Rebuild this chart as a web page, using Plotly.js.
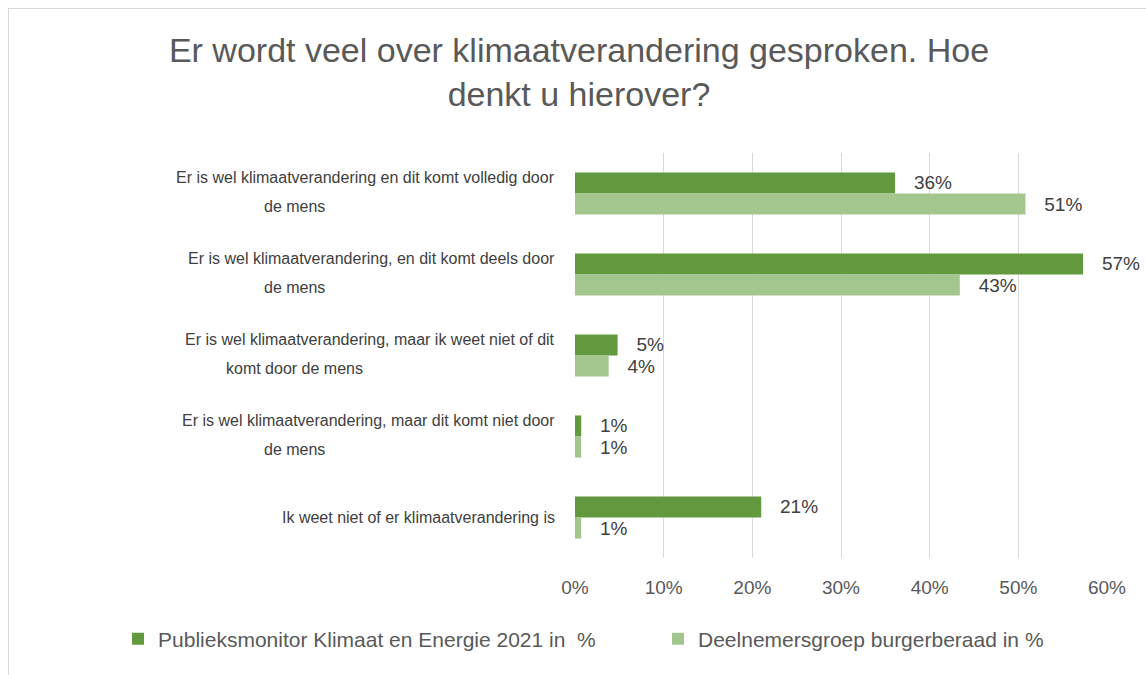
<!DOCTYPE html>
<html>
<head>
<meta charset="utf-8">
<script src="https://cdn.plot.ly/plotly-3.0.1.min.js"></script>
<style>
html,body{margin:0;padding:0;background:#fff;}
#chart{position:absolute;left:8px;top:8px;width:1140px;height:670px;border:1px solid #d9d9d9;}
</style>
</head>
<body>
<div id="chart"></div>
<script>
const categories = [
  "Er is wel klimaatverandering en dit komt volledig door<br>de mens",
  "Er is wel klimaatverandering, en dit komt deels door<br>de mens",
  "Er is wel klimaatverandering, maar ik weet niet of dit<br>komt door de mens",
  "Er is wel klimaatverandering, maar dit komt niet door<br>de mens",
  "Ik weet niet of er klimaatverandering is"
];
const publieksmonitor = [36.1, 57.3, 4.8, 0.7, 21.0];
const burgerberaad = [50.8, 43.4, 3.8, 0.7, 0.7];
const seriesNames = ["Publieksmonitor Klimaat en Energie 2021 in  %", "Deelnemersgroep burgerberaad in %"];
const xTickVals = [0, 10, 20, 30, 40, 50, 60];
const xTickText = ["0%", "10%", "20%", "30%", "40%", "50%", "60%"];

const FONT = "Liberation Sans, Arial, sans-serif";
const catIds = categories.map((c, i) => "c" + i);
const pad = "\u00a0\u00a0\u00a0";

const traces = [
  {type:'bar', orientation:'h', name:seriesNames[0], y:catIds, x:publieksmonitor,
   marker:{color:'#62983E'}, text:publieksmonitor.map(v => pad + Math.round(v) + "%"),
   textposition:'outside', textfont:{size:19, color:'#404040'}, cliponaxis:false, hoverinfo:'x'},
  {type:'bar', orientation:'h', name:seriesNames[1], y:catIds, x:burgerberaad,
   marker:{color:'#A3C68F'}, text:burgerberaad.map(v => pad + Math.round(v) + "%"),
   textposition:'outside', textfont:{size:19, color:'#404040'}, cliponaxis:false, hoverinfo:'x'}
];

const annotations = [];
categories.forEach((c, i) => {
  const lines = c.split("<br>");
  const shifts = lines.length === 2 ? [16, -13] : [0];
  lines.forEach((ln, j) => {
    const second = j === 1;
    annotations.push({xref:'paper', yref:'y', x: second ? -0.528 : -0.034, y:catIds[i],
      xanchor: second ? 'center' : 'right', yanchor:'middle',
      text:ln, showarrow:false, align:'center', yshift:shifts[j],
      font:{family:FONT, size:16, color:'#404040'}});
  });
});

const layout = {
  width:1140, height:670,
  margin:{l:566, r:42, t:144, b:121, autoexpand:false},
  paper_bgcolor:'#fff', plot_bgcolor:'#fff',
  font:{family:FONT, color:'#595959'},
  title:{text:"Er wordt veel over klimaatverandering gesproken. Hoe<br>denkt u hierover?",
    x:0.5, xref:'container', y:0.921, yref:'container', yanchor:'middle', automargin:false,
    font:{size:34, color:'#595959'}},
  barmode:'group', bargap:0.48, bargroupgap:0,
  xaxis:{range:[0,60], tickvals:xTickVals, ticktext:xTickText, showgrid:true, gridcolor:'#d9d9d9',
    zeroline:false, showline:false, ticks:'', ticklabelstandoff:16, automargin:false,
    tickfont:{size:19, color:'#595959'}, fixedrange:true},
  yaxis:{type:'category', autorange:'reversed', showticklabels:false, showgrid:false, zeroline:false,
    showline:false, ticks:'', automargin:false},
  showlegend:true,
  legend:{orientation:'h', xref:'paper', yref:'paper', x:-0.859, xanchor:'left', y:-0.2, yanchor:'middle',
    entrywidth:495, entrywidthmode:'pixels',
    font:{size:21, color:'#595959'}, traceorder:'normal'},
  annotations:annotations
};

Plotly.newPlot('chart', traces, layout, {displayModeBar:false, staticPlot:true});
</script>
</body>
</html>
